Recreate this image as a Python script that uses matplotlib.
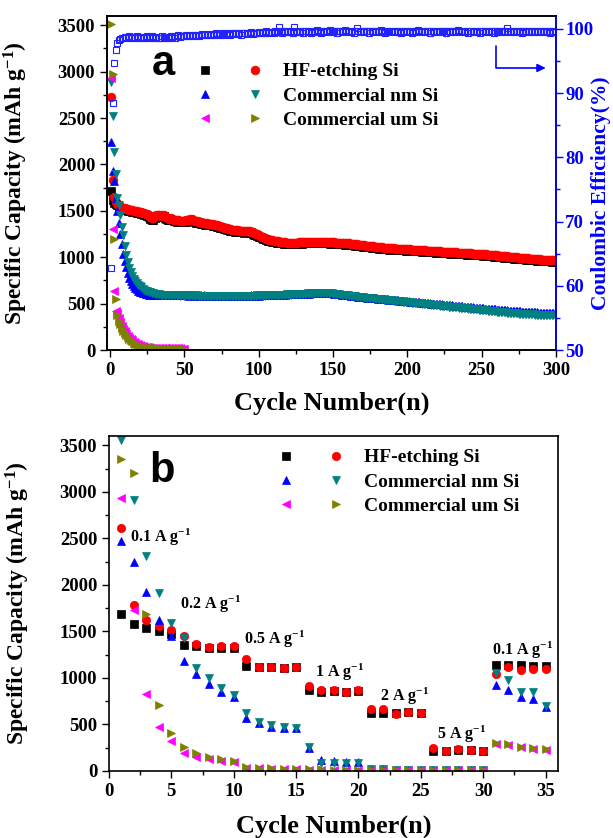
import numpy as np
import matplotlib
matplotlib.use("Agg")
import matplotlib.pyplot as plt
from matplotlib.ticker import MultipleLocator
from matplotlib.legend_handler import HandlerTuple

plt.rcParams['font.family'] = ['Liberation Serif', 'DejaVu Serif']
plt.rcParams['font.weight'] = 'bold'
plt.rcParams['axes.labelweight'] = 'bold'
plt.rcParams['mathtext.fontset'] = 'custom'
plt.rcParams['mathtext.rm'] = 'Liberation Serif:bold'
plt.rcParams['mathtext.bf'] = 'Liberation Serif:bold'
plt.rcParams['mathtext.it'] = 'Liberation Serif:bold'
plt.rcParams['mathtext.default'] = 'bf'

# ---------------- panel a : long cycling (300 cycles) ----------------
hf_dis_a = [
    1718, 1620, 1580, 1575, 1560, 1545, 1530, 1522, 1515, 1510,
    1505, 1500, 1497, 1494, 1490, 1486, 1483, 1480, 1476, 1472,
    1470, 1465, 1460, 1455, 1445, 1430, 1412, 1400, 1405, 1422,
    1435, 1440, 1436, 1432, 1435, 1440, 1428, 1414, 1405, 1400,
    1402, 1396, 1390, 1385, 1382, 1386, 1380, 1375, 1376, 1380,
    1383, 1385, 1390, 1395, 1392, 1385, 1380, 1374, 1370, 1365,
    1360, 1357, 1355, 1352, 1350, 1347, 1345, 1342, 1340, 1335,
    1333, 1330, 1325, 1320, 1315, 1310, 1305, 1300, 1295, 1290,
    1285, 1283, 1280, 1277, 1275, 1273, 1270, 1268, 1267, 1265,
    1267, 1270, 1268, 1265, 1260, 1252, 1244, 1236, 1230, 1222,
    1214, 1206, 1199, 1192, 1185, 1180, 1175, 1171, 1167, 1163,
    1160, 1157, 1155, 1153, 1151, 1149, 1147, 1145, 1143, 1142,
    1141, 1140, 1140, 1141, 1142, 1143, 1145, 1146, 1147, 1148,
    1149, 1150, 1151, 1151, 1152, 1152, 1153, 1153, 1153, 1152,
    1152, 1151, 1151, 1150, 1150, 1149, 1148, 1147, 1146, 1145,
    1144, 1143, 1142, 1141, 1140, 1139, 1138, 1137, 1136, 1135,
    1133, 1131, 1129, 1127, 1125, 1123, 1121, 1119, 1117, 1115,
    1113, 1111, 1109, 1107, 1105, 1103, 1101, 1099, 1097, 1095,
    1093, 1091, 1090, 1089, 1087, 1085, 1084, 1083, 1082, 1081,
    1080, 1079, 1078, 1077, 1076, 1075, 1074, 1073, 1072, 1071,
    1070, 1069, 1068, 1067, 1066, 1065, 1064, 1063, 1062, 1061,
    1060, 1059, 1057, 1056, 1055, 1054, 1053, 1051, 1050, 1049,
    1048, 1047, 1046, 1045, 1044, 1043, 1042, 1041, 1040, 1039,
    1038, 1037, 1036, 1035, 1034, 1033, 1032, 1031, 1030, 1029,
    1028, 1027, 1026, 1025, 1024, 1023, 1022, 1021, 1020, 1019,
    1018, 1016, 1015, 1013, 1012, 1010, 1009, 1007, 1006, 1004,
    1003, 1001, 1000, 998, 997, 995, 994, 992, 991, 989,
    988, 986, 985, 983, 982, 980, 979, 977, 976, 974,
    973, 971, 970, 968, 967, 965, 964, 962, 961, 960,
    959, 958, 957, 956, 955, 954, 953, 952, 951, 950,
]
hf_chg_a = [
    2731, 1836, 1646, 1600, 1575, 1560, 1545, 1535, 1530, 1525,
    1520, 1515, 1512, 1508, 1505, 1500, 1498, 1495, 1490, 1488,
    1485, 1480, 1475, 1470, 1462, 1450, 1432, 1420, 1425, 1440,
    1450, 1455, 1452, 1448, 1450, 1455, 1445, 1430, 1420, 1415,
    1418, 1412, 1405, 1400, 1398, 1402, 1395, 1390, 1392, 1395,
    1398, 1400, 1405, 1410, 1408, 1400, 1395, 1390, 1385, 1380,
    1375, 1372, 1370, 1368, 1365, 1362, 1360, 1358, 1355, 1350,
    1348, 1345, 1340, 1335, 1330, 1325, 1320, 1315, 1310, 1305,
    1300, 1298, 1295, 1292, 1290, 1288, 1285, 1283, 1282, 1280,
    1282, 1285, 1284, 1280, 1275, 1268, 1260, 1252, 1245, 1238,
    1230, 1222, 1215, 1208, 1200, 1195, 1190, 1186, 1182, 1178,
    1175, 1172, 1170, 1168, 1166, 1164, 1162, 1160, 1158, 1157,
    1156, 1155, 1155, 1156, 1157, 1158, 1160, 1161, 1162, 1163,
    1164, 1165, 1166, 1166, 1167, 1167, 1168, 1168, 1168, 1167,
    1167, 1166, 1166, 1165, 1165, 1164, 1163, 1162, 1161, 1160,
    1159, 1158, 1157, 1156, 1155, 1154, 1153, 1152, 1151, 1150,
    1148, 1146, 1144, 1142, 1140, 1138, 1136, 1134, 1132, 1130,
    1128, 1126, 1124, 1122, 1120, 1118, 1116, 1114, 1112, 1110,
    1108, 1106, 1105, 1104, 1102, 1100, 1099, 1098, 1097, 1096,
    1095, 1094, 1093, 1092, 1091, 1090, 1089, 1088, 1087, 1086,
    1085, 1084, 1083, 1082, 1081, 1080, 1079, 1078, 1077, 1076,
    1075, 1074, 1072, 1071, 1070, 1069, 1068, 1066, 1065, 1064,
    1063, 1062, 1061, 1060, 1059, 1058, 1057, 1056, 1055, 1054,
    1053, 1052, 1051, 1050, 1049, 1048, 1047, 1046, 1045, 1044,
    1043, 1042, 1041, 1040, 1039, 1038, 1037, 1036, 1035, 1034,
    1033, 1031, 1030, 1028, 1027, 1025, 1024, 1022, 1021, 1019,
    1018, 1016, 1015, 1013, 1012, 1010, 1009, 1007, 1006, 1004,
    1003, 1001, 1000, 998, 997, 995, 994, 992, 991, 989,
    988, 986, 985, 983, 982, 980, 979, 977, 976, 975,
    974, 973, 972, 971, 970, 969, 968, 967, 966, 965,
]
nm_dis_a = [
    2244, 1933, 1825, 1640, 1500, 1370, 1250, 1140, 1040, 960,
    890, 830, 780, 745, 715, 690, 670, 655, 640, 630,
    622, 615, 610, 605, 600, 598, 596, 594, 592, 590,
    606, 604, 602, 600, 598, 597, 596, 595, 594, 593,
    592, 596, 590, 594, 598, 591, 589, 595, 592, 588,
    590, 594, 587, 591, 589, 593, 586, 590, 588, 584,
    588, 585, 589, 583, 587, 584, 582, 586, 583, 581,
    585, 582, 586, 580, 584, 581, 585, 582, 580, 584,
    581, 585, 582, 586, 583, 587, 584, 581, 585, 582,
    586, 583, 587, 584, 588, 585, 589, 586, 590, 587,
    591, 588, 592, 589, 593, 590, 594, 591, 595, 592,
    596, 593, 597, 595, 598, 596, 600, 597, 601, 599,
    603, 600, 604, 602, 606, 603, 607, 605, 609, 606,
    610, 608, 612, 609, 613, 611, 614, 612, 615, 613,
    616, 614, 617, 615, 618, 616, 615, 613, 612, 610,
    608, 606, 604, 602, 600, 598, 596, 594, 592, 590,
    588, 586, 584, 582, 580, 578, 576, 574, 572, 570,
    569, 567, 566, 564, 563, 561, 560, 558, 557, 555,
    554, 552, 551, 549, 548, 546, 545, 543, 542, 540,
    539, 537, 536, 534, 533, 531, 530, 528, 527, 525,
    524, 522, 521, 519, 518, 516, 515, 513, 512, 510,
    509, 507, 506, 504, 503, 501, 500, 498, 497, 495,
    494, 492, 491, 489, 488, 486, 485, 483, 482, 480,
    479, 477, 476, 474, 473, 471, 470, 468, 467, 465,
    464, 462, 461, 459, 458, 456, 455, 453, 452, 450,
    449, 447, 446, 444, 443, 441, 440, 438, 437, 435,
    434, 433, 431, 430, 429, 427, 426, 425, 424, 423,
    422, 421, 420, 418, 417, 416, 415, 414, 413, 412,
    411, 410, 409, 408, 407, 406, 405, 404, 403, 402,
    401, 400, 400, 399, 398, 398, 397, 396, 396, 395,
]
nm_chg_a = [
    2888, 2523, 2137, 1897, 1640, 1560, 1450, 1330, 1235, 1120,
    1020, 950, 880, 841, 800, 770, 745, 725, 705, 690,
    675, 660, 648, 640, 632, 625, 620, 615, 612, 608,
    605, 603, 600, 598, 596, 595, 594, 593, 592, 591,
    590, 594, 588, 592, 596, 589, 587, 593, 590, 586,
    588, 592, 585, 589, 587, 591, 584, 588, 586, 582,
    586, 583, 587, 581, 585, 582, 580, 584, 581, 579,
    583, 580, 584, 578, 582, 579, 583, 580, 578, 582,
    579, 583, 580, 584, 581, 585, 582, 579, 583, 580,
    584, 581, 585, 582, 586, 583, 587, 584, 588, 585,
    589, 586, 590, 587, 591, 588, 592, 589, 593, 590,
    594, 591, 595, 593, 596, 594, 598, 595, 599, 597,
    601, 598, 602, 600, 604, 601, 605, 603, 607, 604,
    608, 606, 610, 607, 611, 609, 612, 610, 613, 611,
    614, 612, 615, 613, 616, 614, 613, 611, 610, 608,
    606, 604, 602, 600, 598, 596, 594, 592, 590, 588,
    586, 584, 582, 580, 578, 576, 574, 572, 570, 568,
    566, 564, 563, 561, 560, 558, 556, 554, 553, 551,
    549, 547, 546, 544, 543, 541, 539, 537, 536, 534,
    532, 530, 529, 527, 526, 524, 522, 520, 519, 517,
    515, 513, 512, 510, 509, 507, 505, 503, 502, 500,
    498, 496, 495, 493, 492, 490, 488, 486, 485, 483,
    481, 479, 478, 476, 475, 473, 471, 469, 468, 466,
    464, 462, 461, 459, 458, 456, 454, 452, 451, 449,
    447, 445, 444, 442, 441, 439, 437, 435, 434, 432,
    430, 428, 427, 425, 424, 422, 420, 418, 417, 415,
    413, 411, 410, 408, 407, 405, 403, 401, 400, 398,
    397, 396, 395, 394, 393, 392, 391, 390, 389, 388,
    387, 386, 385, 384, 383, 382, 381, 380, 380, 379,
    379, 378, 378, 377, 377, 376, 376, 375, 375, 374,
]
um_dis_a = [
    2935, 1306, 633, 419, 395, 345, 300, 262, 230, 200,
    176, 154, 135, 118, 104, 91, 80, 70, 61, 54,
    47, 42, 38, 34, 31, 29, 27, 26, 25, 24,
    23, 22, 22, 21, 21, 20, 20, 19, 19, 19,
    18, 18, 18, 17, 17, 17, 17, 16, 16, 16,
]
um_chg_a = [
    3518, 2972, 1200, 548, 376, 318, 278, 240, 210, 182,
    160, 140, 122, 106, 92, 80, 69, 60, 52, 45,
    39, 34, 30, 27, 25, 23, 21, 20, 19, 18,
    17, 17, 16, 16, 15, 15, 14, 14, 14, 13,
    13, 13, 12, 12, 12, 12, 11, 11, 11, 11,
]
ce_a = [
    62.8, 88.4, 94.7, 96.7, 97.8, 98.2, 98.4, 98.5, 98.6, 98.7,
    98.7, 98.6, 98.8, 98.7, 98.6, 98.5, 98.7, 98.8, 98.6, 98.7,
    98.6, 98.5, 98.7, 98.6, 98.8, 98.6, 98.7, 98.9, 98.6, 98.5,
    98.7, 98.6, 98.5, 98.6, 98.8, 98.7, 98.6, 98.5, 98.7, 98.6,
    98.8, 98.7, 98.9, 98.6, 98.8, 99.0, 98.7, 98.8, 98.9, 98.8,
    99.0, 98.8, 98.9, 99.1, 98.8, 99.0, 98.9, 99.1, 99.0, 98.9,
    99.1, 99.2, 99.0, 99.1, 99.0, 99.2, 99.1, 99.0, 99.2, 99.1,
    99.3, 99.1, 99.2, 99.0, 99.2, 99.3, 99.1, 99.2, 99.4, 99.2,
    99.1, 99.3, 99.2, 99.4, 99.3, 99.2, 99.3, 99.1, 99.3, 99.4,
    99.3, 99.2, 99.4, 99.3, 99.5, 99.2, 99.4, 99.3, 99.4, 99.5,
    99.4, 99.3, 99.5, 99.4, 99.6, 99.4, 99.5, 99.3, 99.5, 99.4,
    99.6, 99.5, 99.7, 100.3, 99.6, 99.4, 99.5, 99.6, 99.5, 99.7,
    99.5, 99.6, 99.4, 100.2, 99.6, 99.5, 99.7, 99.5, 99.6, 99.4,
    99.6, 99.7, 99.5, 99.6, 99.4, 99.7, 99.5, 99.6, 99.8, 99.5,
    99.6, 99.4, 99.7, 99.5, 99.6, 99.7, 99.5, 99.8, 99.6, 99.5,
    99.7, 99.6, 99.4, 99.6, 99.7, 99.5, 99.6, 99.8, 99.6, 99.5,
    99.7, 99.5, 99.6, 99.4, 99.7, 100.1, 99.6, 99.5, 99.7, 99.6,
    99.5, 99.7, 99.6, 99.4, 99.6, 99.7, 99.5, 99.6, 99.7, 99.5,
    99.6, 99.8, 99.5, 99.6, 99.4, 99.7, 99.6, 99.5, 99.7, 99.6,
    99.5, 99.6, 99.7, 99.5, 99.6, 99.4, 99.7, 99.5, 99.6, 99.7,
    99.5, 99.6, 99.4, 99.6, 99.7, 99.5, 99.8, 99.6, 99.5, 99.7,
    99.6, 99.5, 99.7, 99.6, 99.4, 99.6, 99.7, 99.5, 99.6, 99.5,
    99.7, 99.6, 99.5, 99.7, 99.6, 99.4, 99.6, 99.7, 99.5, 99.6,
    99.7, 99.5, 99.6, 99.8, 99.6, 99.5, 99.7, 99.6, 99.5, 99.6,
    99.4, 99.6, 99.7, 99.5, 99.6, 99.7, 99.5, 99.6, 99.4, 99.7,
    99.6, 99.5, 99.7, 99.6, 99.5, 99.7, 99.6, 99.4, 99.6, 99.5,
    99.7, 99.6, 99.5, 99.6, 99.7, 99.5, 100.1, 99.6, 99.5, 99.7,
    99.6, 99.5, 99.6, 99.7, 99.5, 99.6, 99.4, 99.6, 99.7, 99.5,
    99.6, 99.7, 99.5, 99.6, 99.5, 99.7, 99.6, 99.5, 99.6, 99.7,
    99.5, 99.6, 99.7, 99.5, 99.6, 99.4, 99.6, 99.5, 99.6, 99.5,
]

# ---------------- panel b : rate capability (35 cycles) ----------------
hf_dis_b = [1691, 1583, 1537, 1500, 1472, 1357, 1339, 1321, 1321, 1321,
            1124, 1115, 1115, 1106, 1115, 872, 854, 858, 850, 860,
            624, 628, 621, 630, 628, 219, 215, 220, 222, 215,
            1135, 1135, 1140, 1128, 1128]
hf_chg_b = [2614, 1788, 1619, 1562, 1519, 1454, 1364, 1328, 1339, 1339,
            1203, 1120, 1120, 1106, 1120, 915, 872, 868, 844, 872,
            671, 671, 614, 635, 628, 244, 215, 235, 230, 215,
            1040, 1117, 1088, 1095, 1100]
nm_dis_b = [2470, 2244, 1921, 1626, 1447, 1177, 1045, 933, 844, 800,
            574, 513, 470, 460, 460, 244, 118, 111, 100, 100,
            18, 16, 15, 15, 14, 14, 14, 13, 13, 13,
            926, 869, 800, 770, 690]
nm_chg_b = [3558, 2908, 2308, 1913, 1590, 1429, 1106, 998, 890, 818,
            621, 531, 495, 477, 460, 262, 90, 90, 83, 83,
            18, 16, 15, 15, 14, 14, 14, 13, 13, 13,
            1052, 973, 844, 844, 700]
um_dis_b = [2929, 1734, 826, 477, 327, 197, 147, 126, 111, 100,
            36, 28, 22, 18, 16, 14, 13, 12, 12, 11,
            10, 10, 10, 10, 10, 10, 10, 10, 10, 10,
            290, 275, 255, 238, 228]
um_chg_b = [3357, 3199, 1687, 711, 413, 262, 197, 147, 126, 111,
            47, 35, 28, 24, 20, 18, 16, 15, 14, 14,
            12, 12, 12, 12, 12, 12, 12, 12, 12, 12,
            300, 285, 262, 244, 233]

rate_labels = ["0.1 A g$^{-1}$", "0.2 A g$^{-1}$", "0.5 A g$^{-1}$", "1 A g$^{-1}$",
               "2 A g$^{-1}$", "5 A g$^{-1}$", "0.1 A g$^{-1}$"]
rate_label_pos = [(1.7, 2510), (5.7, 1790), (10.8, 1410), (16.5, 1055),
                  (21.7, 797), (26.3, 390), (30.7, 1300)]

names = ["HF-etching Si", "Commercial nm Si", "Commercial um Si"]
styles = [("s", "#000000"), ("o", "#FF0000"), ("^", "#0000FF"),
          ("v", "#008080"), ("<", "#FF00FF"), (">", "#808000")]


def style_axis(ax, xpad):
    ax.tick_params(which='both', direction='out', labelsize=13.5, width=1.0)
    ax.tick_params(which='major', length=5)
    ax.tick_params(which='minor', length=3)
    for s in ax.spines.values():
        s.set_linewidth(1.2)
    ax.set_ylabel("Specific Capacity (mAh g$^{-1}$)", fontsize=17)
    ax.yaxis.set_label_coords(-0.172, 0.5)
    ax.set_xlabel("Cycle Number(n)", fontsize=19, labelpad=xpad)


def add_legend(ax, handles, anchor):
    pairs = [(handles[0], handles[1]), (handles[2], handles[3]), (handles[4], handles[5])]
    ax.legend(pairs, names, handler_map={tuple: HandlerTuple(ndivide=None, pad=1.55)},
              loc='upper left', bbox_to_anchor=anchor, frameon=False, fontsize=14,
              handlelength=3.6, handletextpad=0.9, labelspacing=0.35,
              borderpad=0, borderaxespad=0)


fig = plt.figure(figsize=(6.13, 8.38), dpi=100)

# panel a
ax1 = fig.add_axes([0.1746, 0.5823, 0.7324, 0.3987])
series_a = [hf_dis_a, hf_chg_a, nm_dis_a, nm_chg_a, um_dis_a, um_chg_a]
handles = []
for data, (m, c) in zip(series_a, styles):
    x = np.arange(1, len(data) + 1)
    h, = ax1.plot(x, data, ls='none', marker=m, ms=6.3, color=c, mec=c, mew=0.5)
    handles.append(h)
ax1.set_xlim(-2, 300)
ax1.set_ylim(0, 3600)
ax1.xaxis.set_major_locator(MultipleLocator(50))
ax1.xaxis.set_minor_locator(MultipleLocator(25))
ax1.yaxis.set_major_locator(MultipleLocator(500))
ax1.yaxis.set_minor_locator(MultipleLocator(250))
style_axis(ax1, 9)
add_legend(ax1, handles, (0.196, 0.86))
ax1.text(0.125, 0.823, "a", transform=ax1.transAxes, fontsize=30, fontweight='bold',
         family='Liberation Sans', ha='center', va='baseline')

ax2 = ax1.twinx()
ax2.plot(np.arange(1, len(ce_a) + 1), ce_a, ls='none', marker='s', ms=5,
         mfc='none', mec='#2222FF', mew=0.8)
ax2.set_ylim(50, 102)
ax2.yaxis.set_major_locator(MultipleLocator(10))
ax2.yaxis.set_minor_locator(MultipleLocator(5))
ax2.tick_params(which='both', direction='out', labelsize=13.5, width=1.0,
                colors='#0000FF', pad=1.5)
ax2.tick_params(which='major', length=5)
ax2.tick_params(which='minor', length=3)
for s in ax2.spines.values():
    s.set_linewidth(1.2)
ax2.spines['right'].set_color('#0000FF')
ax2.set_ylabel("Coulombic Efficiency(%)", fontsize=15.5, color='#0000FF')
ax2.yaxis.set_label_coords(1.077, 0.47)
ax2.annotate('', xy=(293, 93.9), xytext=(259.6, 97.3),
             arrowprops=dict(arrowstyle='-|>', color='#0000FF', lw=1.2, mutation_scale=12,
                             connectionstyle='angle,angleA=90,angleB=0,rad=0',
                             shrinkA=0, shrinkB=0))

# panel b
ax3 = fig.add_axes([0.1778, 0.08, 0.7325, 0.3997])
series_b = [hf_dis_b, hf_chg_b, nm_dis_b, nm_chg_b, um_dis_b, um_chg_b]
handles_b = []
for data, (m, c) in zip(series_b, styles):
    x = np.arange(1, len(data) + 1)
    h, = ax3.plot(x, data, ls='none', marker=m, ms=6, color=c, mec=c, mew=0.5)
    handles_b.append(h)
ax3.set_xlim(0, 36)
ax3.set_ylim(0, 3600)
ax3.xaxis.set_major_locator(MultipleLocator(5))
ax3.xaxis.set_minor_locator(MultipleLocator(2.5))
ax3.yaxis.set_major_locator(MultipleLocator(500))
ax3.yaxis.set_minor_locator(MultipleLocator(250))
style_axis(ax3, 11)
add_legend(ax3, handles_b, (0.372, 0.962))
ax3.text(0.118, 0.863, "b", transform=ax3.transAxes, fontsize=30, fontweight='bold',
         family='Liberation Sans', ha='center', va='baseline')
for lab, (cx, cy) in zip(rate_labels, rate_label_pos):
    ax3.text(cx, cy, lab, fontsize=11.5, ha='left', va='center')

fig.savefig("out.png", dpi=100)
